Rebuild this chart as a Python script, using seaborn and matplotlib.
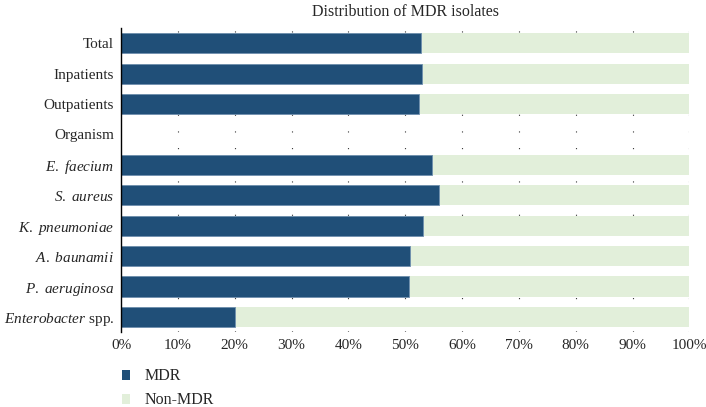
import matplotlib
matplotlib.use('Agg')
from matplotlib import pyplot as plt
from matplotlib.patches import Patch
import seaborn as sns
import pandas as pd
import numpy as np

categories = ['Total', 'Inpatients', 'Outpatients', 'Organism',
              r'$\mathit{E.\ faecium}$', r'$\mathit{S.\ aureus}$',
              r'$\mathit{K.\ pneumoniae}$', r'$\mathit{A.\ baunamii}$',
              r'$\mathit{P.\ aeruginosa}$', r'$\mathit{Enterobacter}$ spp.']
mdr = [52.8, 53.0, 52.5, np.nan, 54.8, 55.9, 53.2, 50.9, 50.6, 20.1]
total = [100, 100, 100, np.nan, 100, 100, 100, 100, 100, 100]
xticks = [0, 10, 20, 30, 40, 50, 60, 70, 80, 90, 100]

sns.set_theme(style='white')
plt.rcParams['font.family'] = ['Liberation Serif', 'DejaVu Serif']
plt.rcParams['mathtext.fontset'] = 'custom'
plt.rcParams['mathtext.rm'] = 'Liberation Serif'
plt.rcParams['mathtext.it'] = 'Liberation Serif:italic'

df = pd.DataFrame({'cat': categories, 'mdr': mdr, 'total': total})

fig = plt.figure(figsize=(7.06, 4.07), dpi=100)
ax = fig.add_axes([0.1714, 0.184, 0.805, 0.747])

dark = '#204f78'
light = '#e2efda'

sns.barplot(data=df, y='cat', x='total', color=light, width=0.66, orient='h',
            saturation=1, ax=ax, linewidth=0)
sns.barplot(data=df, y='cat', x='mdr', color=dark, width=0.66, orient='h',
            saturation=1, ax=ax, edgecolor='#6f8fae', linewidth=0.6)

ax.set_xlim(0, 100)
ax.set_xticks(xticks)
ax.set_xticklabels([f'{t}%' for t in xticks], fontsize=11)
ax.tick_params(axis='y', labelsize=11, length=0, pad=5)
ax.tick_params(axis='x', length=0, pad=5)
ax.set_xlabel('')
ax.set_ylabel('')
for t in xticks[1:]:
    ax.axvline(t, color='#333333', linestyle=(0, (1, 14)), linewidth=0.8, zorder=0)
ax.set_axisbelow(True)

for s in ['top', 'right', 'bottom']:
    ax.spines[s].set_visible(False)
ax.spines['left'].set_color('black')
ax.spines['left'].set_linewidth(1.0)

ax.set_title('Distribution of MDR isolates', fontsize=11.5, pad=9)

handles = [Patch(facecolor=dark, edgecolor='none', label='MDR'),
           Patch(facecolor=light, edgecolor='none', label='Non-MDR')]
fig.legend(handles=handles, loc='upper left', bbox_to_anchor=(0.152, 0.13),
           frameon=False, fontsize=11.5, handlelength=0.55, handleheight=0.55,
           handletextpad=0.9, labelspacing=0.5)

fig.savefig('out.png', dpi=100)
